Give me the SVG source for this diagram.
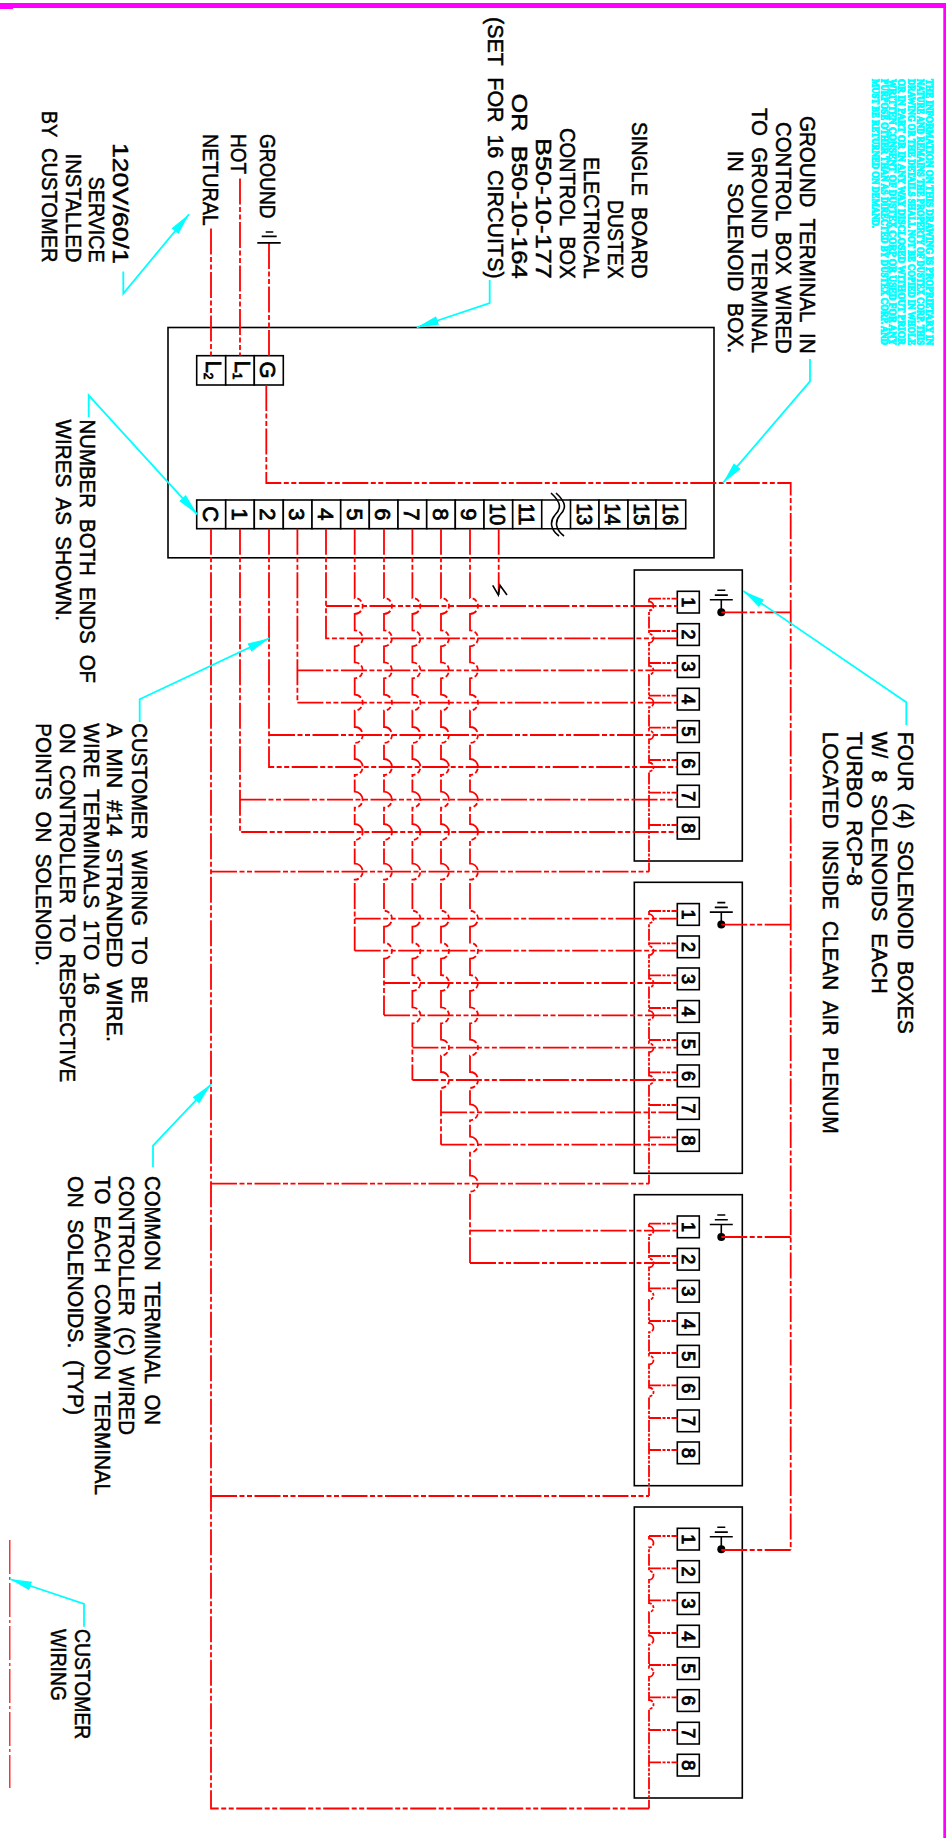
<svg xmlns="http://www.w3.org/2000/svg" width="946" height="1838" viewBox="0 0 946 1838">
<style>
text{font-family:"Liberation Sans",Arial,sans-serif;fill:#000;stroke:#000;stroke-width:.5}
.l{font-size:22px;word-spacing:6px}
.t{font-size:22px;text-anchor:middle;stroke-width:.8}
.s{font-size:18px;text-anchor:middle;stroke-width:.9}
.fine{font-family:"Liberation Serif",serif;font-size:10px;font-weight:700;fill:#0ff;stroke:#0ff;stroke-width:1}
.b{fill:none;stroke:#000;stroke-width:1.6}
.c{fill:#fff;stroke:#000;stroke-width:1.6}
.w{fill:none;stroke:#f00;stroke-width:1.8;stroke-dasharray:26 2.5 5 2.5 5 2.5}
.st{fill:none;stroke:#f00;stroke-width:1.8;stroke-dasharray:12 1.5 3 1.5 3 1.5}
.lead{fill:none;stroke:#0ff;stroke-width:1.8;marker-end:url(#arrow)}
</style>
<defs>
<marker id="arrow" markerUnits="userSpaceOnUse" markerWidth="24" markerHeight="10" refX="22" refY="5" orient="auto"><path d="M0 .5L22 5L0 9.5z" fill="#0ff"/></marker>
<g id="gnd"><path class="b" d="M0 0V-12.5M-11.5 -12.5H11.5M-6.5 -17.2H6.5M-4 -22H4"/><circle r="4" fill="#000"/></g>
</defs>
<rect width="946" height="1838" fill="#fff"/>
<g id="frame" fill="#f0f"><rect x="0" y="3" width="946" height="5"/><rect x="943.3" y="3" width="2.7" height="1835"/><rect x="0" y="8" width="13" height="1"/></g>

<g id="control-box"><rect class="b" x="168" y="327.5" width="546" height="230.3"/></g>
<g id="power-terminals">
<rect class="c" x="196.7" y="355.7" width="29" height="29.3"/><rect class="c" x="225.7" y="355.7" width="28.6" height="29.3"/><rect class="c" x="254.3" y="355.7" width="29" height="29.3"/>
<text class="t" transform="translate(206,370) rotate(90)">L<tspan font-size="12" dy="2">2</tspan></text>
<text class="t" transform="translate(235,370) rotate(90)">L<tspan font-size="12" dy="2">1</tspan></text>
<text class="t" transform="translate(260,370) rotate(90)">G</text>
</g>
<g id="controller-terminals">
<rect class="c" x="196.7" y="500" width="29" height="28.7"/><rect class="c" x="225.7" y="500" width="28.6" height="28.7"/><rect class="c" x="254.3" y="500" width="29" height="28.7"/><rect class="c" x="283.3" y="500" width="28.7" height="28.7"/><rect class="c" x="312" y="500" width="28.7" height="28.7"/><rect class="c" x="340.7" y="500" width="28.6" height="28.7"/><rect class="c" x="369.3" y="500" width="28.7" height="28.7"/><rect class="c" x="398" y="500" width="28.7" height="28.7"/><rect class="c" x="426.7" y="500" width="28.6" height="28.7"/><rect class="c" x="455.3" y="500" width="28.7" height="28.7"/><rect class="c" x="484" y="500" width="28.7" height="28.7"/><rect class="c" x="512.7" y="500" width="29" height="28.7"/>
<path class="b" d="M541.7 500H570.5M541.7 528.7H570.5"/>
<rect class="c" x="570.5" y="500" width="28.5" height="28.7"/><rect class="c" x="599" y="500" width="29" height="28.7"/><rect class="c" x="628" y="500" width="28" height="28.7"/><rect class="c" x="656" y="500" width="29.7" height="28.7"/>
<path class="b" d="M551 493C562 503 561 509 555 515C549 522 551 530 559 536M556 493C567 503 566 509 560 515C554 522 556 530 564 536"/>
<text class="t" transform="translate(203,514.3) rotate(90)">C</text>
<text class="t" transform="translate(232,514.3) rotate(90)">1</text>
<text class="t" transform="translate(260,514.3) rotate(90)">2</text>
<text class="t" transform="translate(289,514.3) rotate(90)">3</text>
<text class="t" transform="translate(318,514.3) rotate(90)">4</text>
<text class="t" transform="translate(346.5,514.3) rotate(90)">5</text>
<text class="t" transform="translate(375,514.3) rotate(90)">6</text>
<text class="t" transform="translate(404,514.3) rotate(90)">7</text>
<text class="t" transform="translate(432.5,514.3) rotate(90)">8</text>
<text class="t" transform="translate(461,514.3) rotate(90)">9</text>
<text class="t" transform="translate(490,514.3) rotate(90)" textLength="22" lengthAdjust="spacingAndGlyphs">10</text>
<text class="t" transform="translate(519,514.3) rotate(90)" textLength="22" lengthAdjust="spacingAndGlyphs">11</text>
<text class="t" transform="translate(576.5,514.3) rotate(90)" textLength="22" lengthAdjust="spacingAndGlyphs">13</text>
<text class="t" transform="translate(605,514.3) rotate(90)" textLength="22" lengthAdjust="spacingAndGlyphs">14</text>
<text class="t" transform="translate(634,514.3) rotate(90)" textLength="22" lengthAdjust="spacingAndGlyphs">15</text>
<text class="t" transform="translate(662.5,514.3) rotate(90)" textLength="22" lengthAdjust="spacingAndGlyphs">16</text>
</g>

<g id="solenoid-box-1"><rect class="b" x="634.3" y="570" width="108" height="291"/>
<use href="#gnd" x="721.3" y="612.3"/>
<rect class="c" x="677.3" y="591.3" width="22" height="21.7"/><rect class="c" x="677.3" y="623.7" width="22" height="21.7"/><rect class="c" x="677.3" y="655.7" width="22" height="21.7"/><rect class="c" x="677.3" y="688.3" width="22" height="21.7"/><rect class="c" x="677.3" y="720.7" width="22" height="21.7"/><rect class="c" x="677.3" y="752.7" width="22" height="21.7"/><rect class="c" x="677.3" y="785.3" width="22" height="21.7"/><rect class="c" x="677.3" y="817.3" width="22" height="21.7"/>
<text class="s" transform="translate(682,602.2) rotate(90)">1</text><text class="s" transform="translate(682,634.6) rotate(90)">2</text><text class="s" transform="translate(682,666.6) rotate(90)">3</text><text class="s" transform="translate(682,699.2) rotate(90)">4</text><text class="s" transform="translate(682,731.6) rotate(90)">5</text><text class="s" transform="translate(682,763.6) rotate(90)">6</text><text class="s" transform="translate(682,796.2) rotate(90)">7</text><text class="s" transform="translate(682,828.2) rotate(90)">8</text>
</g>
<g id="solenoid-box-2" transform="translate(0,312.3)"><rect class="b" x="634.3" y="570" width="108" height="291"/>
<use href="#gnd" x="721.3" y="612.3"/>
<rect class="c" x="677.3" y="591.3" width="22" height="21.7"/><rect class="c" x="677.3" y="623.7" width="22" height="21.7"/><rect class="c" x="677.3" y="655.7" width="22" height="21.7"/><rect class="c" x="677.3" y="688.3" width="22" height="21.7"/><rect class="c" x="677.3" y="720.7" width="22" height="21.7"/><rect class="c" x="677.3" y="752.7" width="22" height="21.7"/><rect class="c" x="677.3" y="785.3" width="22" height="21.7"/><rect class="c" x="677.3" y="817.3" width="22" height="21.7"/>
<text class="s" transform="translate(682,602.2) rotate(90)">1</text><text class="s" transform="translate(682,634.6) rotate(90)">2</text><text class="s" transform="translate(682,666.6) rotate(90)">3</text><text class="s" transform="translate(682,699.2) rotate(90)">4</text><text class="s" transform="translate(682,731.6) rotate(90)">5</text><text class="s" transform="translate(682,763.6) rotate(90)">6</text><text class="s" transform="translate(682,796.2) rotate(90)">7</text><text class="s" transform="translate(682,828.2) rotate(90)">8</text>
</g>
<g id="solenoid-box-3" transform="translate(0,624.7)"><rect class="b" x="634.3" y="570" width="108" height="291"/>
<use href="#gnd" x="721.3" y="612.3"/>
<rect class="c" x="677.3" y="591.3" width="22" height="21.7"/><rect class="c" x="677.3" y="623.7" width="22" height="21.7"/><rect class="c" x="677.3" y="655.7" width="22" height="21.7"/><rect class="c" x="677.3" y="688.3" width="22" height="21.7"/><rect class="c" x="677.3" y="720.7" width="22" height="21.7"/><rect class="c" x="677.3" y="752.7" width="22" height="21.7"/><rect class="c" x="677.3" y="785.3" width="22" height="21.7"/><rect class="c" x="677.3" y="817.3" width="22" height="21.7"/>
<text class="s" transform="translate(682,602.2) rotate(90)">1</text><text class="s" transform="translate(682,634.6) rotate(90)">2</text><text class="s" transform="translate(682,666.6) rotate(90)">3</text><text class="s" transform="translate(682,699.2) rotate(90)">4</text><text class="s" transform="translate(682,731.6) rotate(90)">5</text><text class="s" transform="translate(682,763.6) rotate(90)">6</text><text class="s" transform="translate(682,796.2) rotate(90)">7</text><text class="s" transform="translate(682,828.2) rotate(90)">8</text>
</g>
<g id="solenoid-box-4" transform="translate(0,937)"><rect class="b" x="634.3" y="570" width="108" height="291"/>
<use href="#gnd" x="721.3" y="612.3"/>
<rect class="c" x="677.3" y="591.3" width="22" height="21.7"/><rect class="c" x="677.3" y="623.7" width="22" height="21.7"/><rect class="c" x="677.3" y="655.7" width="22" height="21.7"/><rect class="c" x="677.3" y="688.3" width="22" height="21.7"/><rect class="c" x="677.3" y="720.7" width="22" height="21.7"/><rect class="c" x="677.3" y="752.7" width="22" height="21.7"/><rect class="c" x="677.3" y="785.3" width="22" height="21.7"/><rect class="c" x="677.3" y="817.3" width="22" height="21.7"/>
<text class="s" transform="translate(682,602.2) rotate(90)">1</text><text class="s" transform="translate(682,634.6) rotate(90)">2</text><text class="s" transform="translate(682,666.6) rotate(90)">3</text><text class="s" transform="translate(682,699.2) rotate(90)">4</text><text class="s" transform="translate(682,731.6) rotate(90)">5</text><text class="s" transform="translate(682,763.6) rotate(90)">6</text><text class="s" transform="translate(682,796.2) rotate(90)">7</text><text class="s" transform="translate(682,828.2) rotate(90)">8</text>
</g>

<g id="connectors">
<path class="w" d="M211 228.6V355.7"/><path class="w" d="M240 178.6V355.7"/><path class="w" d="M269 242.9V355.7"/>
<path class="b" d="M257.3 242.9H280.7M261.7 236.4H276.7M265.7 232H273.3"/>
<path class="w" d="M266.3 385V483H790.7V1550"/>
<path class="w" d="M790.7 612.3H721.3M790.7 924.6H721.3M790.7 1237H721.3M790.7 1550H721.3"/>
<path class="w" d="M211 528.7V1808.5H649"/>
<path class="w" d="M211 871.7H649M211 1183.7H649M211 1496H649"/>
<path class="w" d="M326 528.7V638.3H677.3M326 606H677.3"/>
<path class="w" d="M297.4 528.7V702.7H677.3M297.4 670.3H677.3"/>
<path class="w" d="M269 528.7V767H677.3M269 735H677.3"/>
<path class="w" d="M240 528.7V832H677.3M240 799.7H677.3"/>
<path class="w" d="M354.7 918.7H677.3M354.7 950.7H677.3"/>
<path class="w" d="M384 983H677.3M384 1015.3H677.3"/>
<path class="w" d="M412.4 1047.7H677.3M412.4 1080H677.3"/>
<path class="w" d="M441 1112.3H677.3M441 1144.7H677.3"/>
<path class="w" d="M470 1230.7H677.3M470 1263H677.3"/>
<path class="w" d="M354.7 528.7V598a8 8 0 0 1 0 16V630.3a8 8 0 0 1 0 16V662.3a8 8 0 0 1 0 16V694.7a8 8 0 0 1 0 16V727a8 8 0 0 1 0 16V759a8 8 0 0 1 0 16V791.7a8 8 0 0 1 0 16V824a8 8 0 0 1 0 16V863.7a8 8 0 0 1 0 16V950.7"/>
<path class="w" d="M384 528.7V598a8 8 0 0 1 0 16V630.3a8 8 0 0 1 0 16V662.3a8 8 0 0 1 0 16V694.7a8 8 0 0 1 0 16V727a8 8 0 0 1 0 16V759a8 8 0 0 1 0 16V791.7a8 8 0 0 1 0 16V824a8 8 0 0 1 0 16V863.7a8 8 0 0 1 0 16V910.7a8 8 0 0 1 0 16V942.7a8 8 0 0 1 0 16V1015.3"/>
<path class="w" d="M412.4 528.7V598a8 8 0 0 1 0 16V630.3a8 8 0 0 1 0 16V662.3a8 8 0 0 1 0 16V694.7a8 8 0 0 1 0 16V727a8 8 0 0 1 0 16V759a8 8 0 0 1 0 16V791.7a8 8 0 0 1 0 16V824a8 8 0 0 1 0 16V863.7a8 8 0 0 1 0 16V910.7a8 8 0 0 1 0 16V942.7a8 8 0 0 1 0 16V975a8 8 0 0 1 0 16V1007.3a8 8 0 0 1 0 16V1080"/>
<path class="w" d="M441 528.7V598a8 8 0 0 1 0 16V630.3a8 8 0 0 1 0 16V662.3a8 8 0 0 1 0 16V694.7a8 8 0 0 1 0 16V727a8 8 0 0 1 0 16V759a8 8 0 0 1 0 16V791.7a8 8 0 0 1 0 16V824a8 8 0 0 1 0 16V863.7a8 8 0 0 1 0 16V910.7a8 8 0 0 1 0 16V942.7a8 8 0 0 1 0 16V975a8 8 0 0 1 0 16V1007.3a8 8 0 0 1 0 16V1039.7a8 8 0 0 1 0 16V1072a8 8 0 0 1 0 16V1144.7"/>
<path class="w" d="M470 528.7V598a8 8 0 0 1 0 16V630.3a8 8 0 0 1 0 16V662.3a8 8 0 0 1 0 16V694.7a8 8 0 0 1 0 16V727a8 8 0 0 1 0 16V759a8 8 0 0 1 0 16V791.7a8 8 0 0 1 0 16V824a8 8 0 0 1 0 16V863.7a8 8 0 0 1 0 16V910.7a8 8 0 0 1 0 16V942.7a8 8 0 0 1 0 16V975a8 8 0 0 1 0 16V1007.3a8 8 0 0 1 0 16V1039.7a8 8 0 0 1 0 16V1072a8 8 0 0 1 0 16V1104.3a8 8 0 0 1 0 16V1136.7a8 8 0 0 1 0 16V1175.7a8 8 0 0 1 0 16V1263"/>
<path class="w" d="M498.7 528.7V595"/>
<path class="b" d="M492.7 585.3L498.3 595L500 585.3L507 595"/>
<path class="st" d="M649 598.7V601.5a4.5 4.5 0 0 1 0 9V633.8a4.5 4.5 0 0 1 0 9V665.8a4.5 4.5 0 0 1 0 9V698.2a4.5 4.5 0 0 1 0 9V730.5a4.5 4.5 0 0 1 0 9V762.5a4.5 4.5 0 0 1 0 9V871.7"/>
<path class="st" d="M649 911V914.2a4.5 4.5 0 0 1 0 9V946.2a4.5 4.5 0 0 1 0 9V978.5a4.5 4.5 0 0 1 0 9V1010.8a4.5 4.5 0 0 1 0 9V1043.2a4.5 4.5 0 0 1 0 9V1075.5a4.5 4.5 0 0 1 0 9V1183.7"/>
<path class="st" d="M649 1223.7V1226.2a4.5 4.5 0 0 1 0 9V1258.5a4.5 4.5 0 0 1 0 9V1290.9a4.5 4.5 0 0 1 0 9V1323.2a4.5 4.5 0 0 1 0 9V1355.5a4.5 4.5 0 0 1 0 9V1387.5a4.5 4.5 0 0 1 0 9V1496"/>
<path class="st" d="M649 1536V1538.5a4.5 4.5 0 0 1 0 9V1570.8a4.5 4.5 0 0 1 0 9V1603.2a4.5 4.5 0 0 1 0 9V1635.5a4.5 4.5 0 0 1 0 9V1667.8a4.5 4.5 0 0 1 0 9V1700a4.5 4.5 0 0 1 0 9V1808.5"/>
<path class="st" d="M649 598.7H677.3M649 631H677.3M649 663H677.3M649 695.7H677.3M649 727.7H677.3M649 760H677.3M649 792.7H677.3M649 825H677.3"/>
<path class="st" d="M649 911H677.3M649 943.3H677.3M649 975.3H677.3M649 1008H677.3M649 1040H677.3M649 1072.3H677.3M649 1105H677.3M649 1137.3H677.3"/>
<path class="st" d="M649 1223.7H677.3M649 1256H677.3M649 1288.3H677.3M649 1321H677.3M649 1353H677.3M649 1385.3H677.3M649 1418H677.3M649 1450H677.3"/>
<path class="st" d="M649 1536H677.3M649 1568.3H677.3M649 1600.3H677.3M649 1633H677.3M649 1665H677.3M649 1697.3H677.3M649 1730H677.3M649 1762.3H677.3"/>
<path d="M9.8 1540V1788" fill="none" stroke="#f00" stroke-width="1.2" stroke-dasharray="34 3 3 3"/>
<polyline class="lead" points="489.7,280 489.7,303 416.7,327.5"/>
<polyline class="lead" points="123.3,271.4 123.3,293.6 189,214.3"/>
<polyline class="lead" points="88.7,417 88.7,395.4 197.3,514.3"/>
<polyline class="lead" points="810,359 810,381.4 723,482.9"/>
<polyline class="lead" points="906.3,725 906.3,702.3 743.3,591"/>
<polyline class="lead" points="139.7,722 139.7,699.3 269.3,638.3"/>
<polyline class="lead" points="153,1167.3 153,1145.7 211,1084.3"/>
<polyline class="lead" points="84,1626.7 84,1604 9.8,1579"/>
</g>

<g id="labels">
<text class="l" transform="translate(260,134) rotate(90)" textLength="84.6" lengthAdjust="spacingAndGlyphs">GROUND</text>
<text class="l" transform="translate(231.3,134) rotate(90)" textLength="40" lengthAdjust="spacingAndGlyphs">HOT</text>
<text class="l" transform="translate(202.7,134) rotate(90)" textLength="91.7" lengthAdjust="spacingAndGlyphs">NETURAL</text>
<text class="l" transform="translate(113.3,143) rotate(90)" textLength="120.6" lengthAdjust="spacingAndGlyphs">120V/60/1</text>
<text class="l" transform="translate(89.3,176.8) rotate(90)" textLength="85.7" lengthAdjust="spacingAndGlyphs">SERVICE</text>
<text class="l" transform="translate(65.7,153.6) rotate(90)" textLength="108.9" lengthAdjust="spacingAndGlyphs">INSTALLED</text>
<text class="l" transform="translate(41.7,110.7) rotate(90)" textLength="151.8" lengthAdjust="spacingAndGlyphs">BY CUSTOMER</text>
<text class="l" transform="translate(80.3,419.6) rotate(90)" textLength="263.4" lengthAdjust="spacingAndGlyphs">NUMBER BOTH ENDS OF</text>
<text class="l" transform="translate(56.3,419.6) rotate(90)" textLength="201.4" lengthAdjust="spacingAndGlyphs">WIRES AS SHOWN.</text>
<text class="l" transform="translate(799.7,116) rotate(90)" textLength="237.6" lengthAdjust="spacingAndGlyphs">GROUND TERMINAL IN</text>
<text class="l" transform="translate(775.7,122) rotate(90)" textLength="231.6" lengthAdjust="spacingAndGlyphs">CONTROL BOX WIRED</text>
<text class="l" transform="translate(751.7,107.9) rotate(90)" textLength="245.1" lengthAdjust="spacingAndGlyphs">TO GROUND TERMINAL</text>
<text class="l" transform="translate(728,150.7) rotate(90)" textLength="202.3" lengthAdjust="spacingAndGlyphs">IN SOLENOID BOX.</text>
<text class="l" transform="translate(632.3,122) rotate(90)" textLength="156.6" lengthAdjust="spacingAndGlyphs">SINGLE BOARD</text>
<text class="l" transform="translate(608,200) rotate(90)" textLength="78.6" lengthAdjust="spacingAndGlyphs">DUSTEX</text>
<text class="l" transform="translate(584,157) rotate(90)" textLength="121.6" lengthAdjust="spacingAndGlyphs">ELECTRICAL</text>
<text class="l" transform="translate(560.3,127.9) rotate(90)" textLength="150.7" lengthAdjust="spacingAndGlyphs">CONTROL BOX</text>
<text class="l" transform="translate(536.3,138) rotate(90)" textLength="140.6" lengthAdjust="spacingAndGlyphs">B50-10-177</text>
<text class="l" transform="translate(512.3,93.6) rotate(90)" textLength="185" lengthAdjust="spacingAndGlyphs">OR B50-10-164</text>
<text class="l" transform="translate(488,17) rotate(90)" textLength="261.6" lengthAdjust="spacingAndGlyphs">(SET FOR 16 CIRCUITS)</text>
<text class="l" transform="translate(131.7,723.3) rotate(90)" textLength="279.7" lengthAdjust="spacingAndGlyphs">CUSTOMER WIRING TO BE</text>
<text class="l" transform="translate(107.3,723.3) rotate(90)" textLength="318.7" lengthAdjust="spacingAndGlyphs">A MIN #14 STRANDED WIRE.</text>
<text class="l" transform="translate(84,723.3) rotate(90)" textLength="271.7" lengthAdjust="spacingAndGlyphs">WIRE TERMINALS 1TO 16</text>
<text class="l" transform="translate(60,723.3) rotate(90)" textLength="358.7" lengthAdjust="spacingAndGlyphs">ON CONTROLLER TO RESPECTIVE</text>
<text class="l" transform="translate(36,723.3) rotate(90)" textLength="242.7" lengthAdjust="spacingAndGlyphs">POINTS ON SOLENOID.</text>
<text class="l" transform="translate(145,1176) rotate(90)" textLength="249" lengthAdjust="spacingAndGlyphs">COMMON TERMINAL ON</text>
<text class="l" transform="translate(119,1176) rotate(90)" textLength="259" lengthAdjust="spacingAndGlyphs">CONTROLLER (C) WIRED</text>
<text class="l" transform="translate(95,1176) rotate(90)" textLength="319" lengthAdjust="spacingAndGlyphs">TO EACH COMMON TERMINAL</text>
<text class="l" transform="translate(68.3,1176) rotate(90)" textLength="239" lengthAdjust="spacingAndGlyphs">ON SOLENOIDS. (TYP)</text>
<text class="l" transform="translate(897.7,731.7) rotate(90)" textLength="302" lengthAdjust="spacingAndGlyphs">FOUR (4) SOLENOID BOXES</text>
<text class="l" transform="translate(871.7,731.7) rotate(90)" textLength="262" lengthAdjust="spacingAndGlyphs">W/ 8 SOLENOIDS EACH</text>
<text class="l" transform="translate(847.3,731.7) rotate(90)" textLength="154.3" lengthAdjust="spacingAndGlyphs">TURBO RCP-8</text>
<text class="l" transform="translate(822.7,731.7) rotate(90)" textLength="402" lengthAdjust="spacingAndGlyphs">LOCATED INSIDE CLEAN AIR PLENUM</text>
<text class="l" transform="translate(75.3,1629) rotate(90)" textLength="110.3" lengthAdjust="spacingAndGlyphs">CUSTOMER</text>
<text class="l" transform="translate(51,1629) rotate(90)" textLength="72" lengthAdjust="spacingAndGlyphs">WIRING</text>
</g>
<g id="notice">
<text class="fine" transform="translate(925.7,79) rotate(90)" textLength="266" lengthAdjust="spacingAndGlyphs">THE INFORMATION ON THIS DRAWING IS PROPRIETARY IN</text>
<text class="fine" transform="translate(916.7,79) rotate(90)" textLength="266" lengthAdjust="spacingAndGlyphs">NATURE AND REMAINS THE PROPERTY OF DUSTEX CORP. THIS</text>
<text class="fine" transform="translate(907.7,79) rotate(90)" textLength="266" lengthAdjust="spacingAndGlyphs">DRAWING OR THE DETAILS SHALL NOT BE COPIED IN WHOLE</text>
<text class="fine" transform="translate(898.3,79) rotate(90)" textLength="266" lengthAdjust="spacingAndGlyphs">OR IN PART OR IN ANY WAY DISCLOSED WITHOUT PRIOR</text>
<text class="fine" transform="translate(889.3,79) rotate(90)" textLength="266" lengthAdjust="spacingAndGlyphs">WRITTEN CONSENT OF DUSTEX CORP OR USED FOR ANY</text>
<text class="fine" transform="translate(880.7,79) rotate(90)" textLength="266" lengthAdjust="spacingAndGlyphs">PURPOSE OTHER THAN AS DIRECTED BY DUSTEX CORP. AND</text>
<text class="fine" transform="translate(871.7,79) rotate(90)" textLength="149" lengthAdjust="spacingAndGlyphs">MUST BE RETURNED ON DEMAND.</text>
</g>
</svg>
